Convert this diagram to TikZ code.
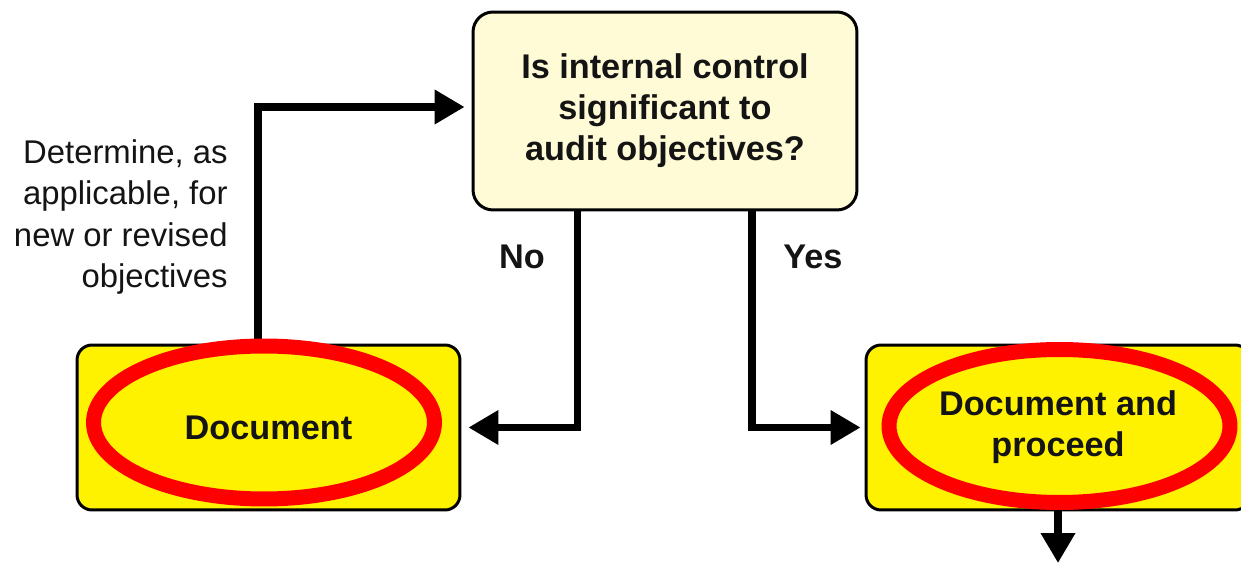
\documentclass[tikz,border=0pt]{standalone}
\usepackage{fontspec}
\setmainfont{Liberation Sans}
\definecolor{paleyellow}{RGB}{255,251,214}
\definecolor{boxyellow}{RGB}{255,242,0}
\definecolor{ringred}{RGB}{255,0,0}
\definecolor{inkgray}{RGB}{20,20,20}
\usetikzlibrary{shapes.geometric,arrows.meta,positioning,calc}

\begin{document}
\begin{tikzpicture}[x=0.02cm,y=-0.02cm,
    font=\fontsize{19.5}{23.3}\selectfont,
    box/.style={draw=black,line width=1.7pt,rounded corners=0.3cm,
                align=center,text=inkgray,font=\fontsize{19.5}{23.3}\selectfont\bfseries},
    conn/.style={line width=4pt,-{Triangle[length=0.6cm,width=0.66cm]}},
    ring/.style={ellipse,draw=ringred,line width=0.3cm,minimum width=6.82cm,minimum height=3.06cm}]
  \useasboundingbox (0,0) rectangle (1241,563);
  \node[box,fill=paleyellow,rounded corners=0.4cm,minimum width=7.68cm,minimum height=3.96cm] (q) at (665,111)
    {Is internal control\\significant to\\audit objectives?};
  \node[box,fill=boxyellow,minimum width=7.66cm,minimum height=3.3cm] (doc) at (268.5,427.5) {Document};
  \node[box,fill=boxyellow,minimum width=7.68cm,minimum height=3.3cm] (go) at (1058,427.5) {Document and\\proceed};
  \node[align=right,anchor=east,inner sep=0pt,text=inkgray,font=\fontsize{18.7}{23.5}\selectfont] (why) at (228,217)
    {Determine, as\\applicable, for\\new or revised\\objectives};
  \node[font=\fontsize{19.5}{23.3}\selectfont\bfseries,text=inkgray] (no) at (522,257) {No};
  \node[font=\fontsize{19.5}{23.3}\selectfont\bfseries,text=inkgray] (yes) at (813,257) {Yes};
  \coordinate (out) at (1058,563);
  % connectors
  \draw[conn] ([xshift=-0.21cm]doc.north) |- ([yshift=0.08cm,xshift=-0.14cm]q.west);
  \draw[conn] ([xshift=-1.76cm]q.south) |- ([xshift=0.14cm]doc.east);
  \draw[conn] ([xshift=1.74cm]q.south) |- ([xshift=-0.08cm]go.west);
  \draw[conn] (go.south) -- (out);
  % red rings
  \node[ring] (ringdoc) at (264,422.5) {};
  \node[ring] (ringgo) at (1059.5,426) {};
\end{tikzpicture}
\end{document}
